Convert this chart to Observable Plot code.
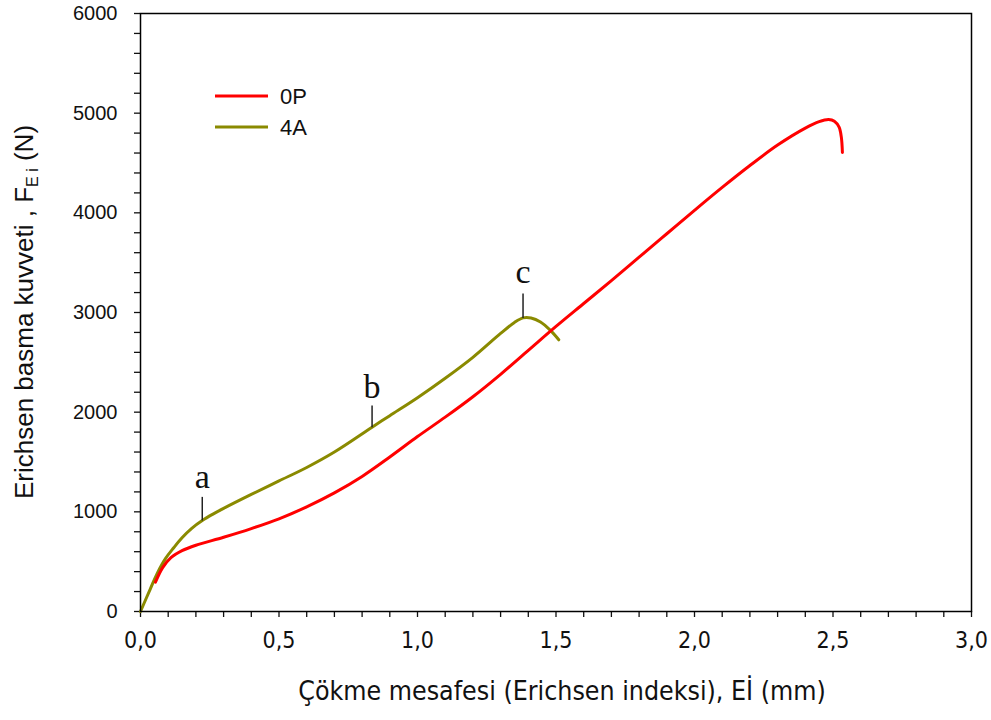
<!DOCTYPE html>
<html><head><meta charset="utf-8">
<script src="https://cdn.jsdelivr.net/npm/d3@7"></script>
<script src="https://cdn.jsdelivr.net/npm/@observablehq/plot@0.6"></script>
<style>body{margin:0;background:#fff} #chart{width:991px;height:720px}</style>
</head><body><div id="chart"></div>
<script>
const series = ["0P", "4A"];
const colors = ["#ff0000", "#8a8a00"];

const x0P = [0.054, 0.08, 0.11, 0.15, 0.2, 0.3, 0.4, 0.5, 0.6, 0.7, 0.8, 0.9, 1.0, 1.1, 1.2, 1.3, 1.4, 1.5, 1.6, 1.7, 1.8, 1.9, 2.0, 2.1, 2.2, 2.3, 2.4, 2.45, 2.484, 2.505, 2.522, 2.53, 2.534];
const y0P = [294, 440, 540, 610, 665, 745, 832, 930, 1050, 1190, 1355, 1550, 1755, 1950, 2155, 2380, 2620, 2860, 3090, 3320, 3555, 3790, 4025, 4255, 4475, 4680, 4850, 4915, 4936, 4920, 4860, 4760, 4605];

const x4A = [0, 0.036, 0.06, 0.09, 0.12, 0.15, 0.185, 0.223, 0.26, 0.3, 0.4, 0.5, 0.6, 0.7, 0.836, 0.9, 1.0, 1.1, 1.2, 1.3, 1.35, 1.381, 1.41, 1.444, 1.48, 1.51];
const y4A = [0, 230, 380, 530, 640, 740, 835, 913, 975, 1035, 1175, 1310, 1445, 1600, 1849, 1965, 2145, 2340, 2550, 2790, 2900, 2946, 2945, 2905, 2820, 2726];

const xTickLabels = [0, 0.5, 1, 1.5, 2, 2.5, 3];
const yTickLabels = [0, 1000, 2000, 3000, 4000, 5000, 6000];

const annLabels = ["a", "b", "c"];
const annX = [0.223, 0.836, 1.381];
const annYCurve = [913, 1849, 2946];
const annYTop = [1150, 2067, 3190];
const annYText = [1244, 2147, 3291];

const xTitle = "Çökme mesafesi (Erichsen indeksi), Eİ (mm)";
const yTitleMain = "Erichsen basma kuvveti , F";
const yTitleSub = "E i";
const yTitleEnd = " (N)";

const data = [
  ...x0P.map((x, i) => ({s: series[0], x, y: y0P[i]})),
  ...x4A.map((x, i) => ({s: series[1], x, y: y4A[i]}))
];
const ann = annLabels.map((t, i) => ({t, x: annX[i], y1: annYCurve[i], y2: annYTop[i], yt: annYText[i]}));

const narrow = "'Liberation Sans Narrow', 'DejaVu Sans Condensed', 'Arial Narrow', sans-serif";
const sans = "'Liberation Sans', Arial, sans-serif";

const plot = Plot.plot({
  width: 991, height: 720,
  marginLeft: 140, marginRight: 20, marginTop: 13, marginBottom: 109,
  x: {domain: [0, 3]},
  y: {domain: [0, 6000]},
  color: {domain: series, range: colors},
  style: {fontFamily: sans, color: "#111", background: "white"},
  marks: [
    Plot.axisX({ticks: d3.range(0, 31).map(i => i / 10), tickSize: 6, strokeWidth: 1.3, tickFormat: () => "", label: null}),
    Plot.axisX({ticks: xTickLabels, tickSize: 0, tickPadding: 20, fontSize: 23, fontFamily: narrow, tickFormat: d => d.toFixed(1).replace(".", ","), label: null}),
    Plot.axisY({ticks: d3.range(0, 31).map(i => i * 200), tickSize: 6, strokeWidth: 1.3, tickFormat: () => "", label: null}),
    Plot.axisY({ticks: yTickLabels, tickSize: 0, tickPadding: 23, fontSize: 20, tickFormat: d => String(d), label: null}),
    Plot.line(data.filter(d => d.s === series[1]), {x: "x", y: "y", stroke: "s", strokeWidth: 3, curve: "catmull-rom"}),
    Plot.line(data.filter(d => d.s === series[0]), {x: "x", y: "y", stroke: "s", strokeWidth: 3, curve: "catmull-rom"}),
    Plot.link(ann, {x1: "x", x2: "x", y1: "y1", y2: "y2", stroke: "#222", strokeWidth: 1.5}),
    Plot.text(ann, {x: "x", y: "yt", text: "t", fontFamily: "'Liberation Serif', 'Times New Roman', serif", fontSize: 34, lineAnchor: "bottom", fill: "#111"}),
    Plot.frame({stroke: "#000", strokeWidth: 1.5})
  ]
});

const svg = d3.select(plot);
// x title
svg.append("text")
  .attr("x", 562).attr("y", 700)
  .attr("text-anchor", "middle")
  .attr("font-family", narrow)
  .attr("font-size", 26.5)
  .attr("fill", "#111")
  .text(xTitle);
// y title
const yt = svg.append("text")
  .attr("transform", "translate(33,312) rotate(-90)")
  .attr("text-anchor", "middle")
  .attr("font-family", sans)
  .attr("font-size", 26)
  .attr("fill", "#111");
yt.append("tspan").text(yTitleMain);
yt.append("tspan").attr("font-size", 16).attr("dy", 5).text(yTitleSub);
yt.append("tspan").attr("dy", -5).text(yTitleEnd);
// legend
const legY = [96, 127];
series.forEach((s, i) => {
  svg.append("line").attr("x1", 215).attr("x2", 268).attr("y1", legY[i]).attr("y2", legY[i])
    .attr("stroke", colors[i]).attr("stroke-width", 3);
  svg.append("text").attr("x", 280).attr("y", legY[i]).attr("dy", "0.36em")
    .attr("text-anchor", "start")
    .attr("font-family", sans).attr("font-size", 22).attr("fill", "#111").text(s);
});

document.getElementById("chart").appendChild(plot);
</script>
</body></html>
